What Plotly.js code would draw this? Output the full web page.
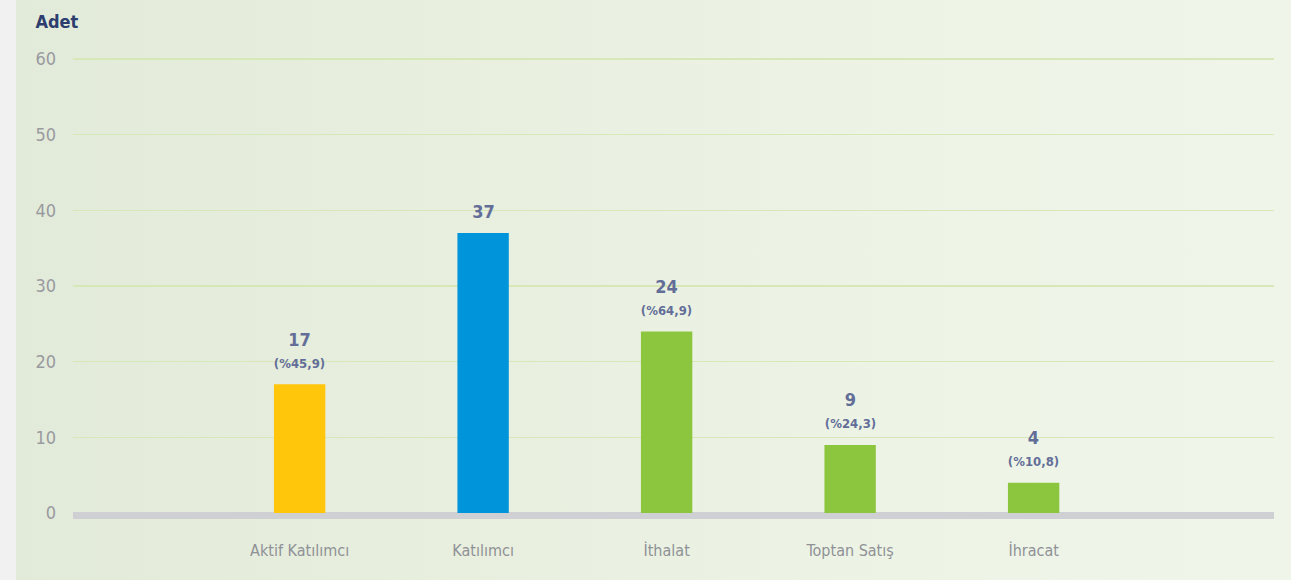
<!DOCTYPE html>
<html>
<head>
<meta charset="utf-8">
<script src="https://cdn.plot.ly/plotly-3.0.1.min.js"></script>
<style>
html,body{margin:0;padding:0;width:1291px;height:580px;overflow:hidden;background:#f1f1f1;}
#wrap{position:absolute;left:16px;top:0;width:1275px;height:580px;background:linear-gradient(90deg,#e2eada 0%,#e8efdf 35%,#edf4e6 70%,#eff5e9 100%);}
#chart{position:absolute;left:0;top:0;width:1291px;height:580px;}
#chart text{font-stretch:condensed !important;}
</style>
</head>
<body>
<div id="wrap"></div>
<div id="chart"></div>
<script>
const categories = ["Aktif Katılımcı", "Katılımcı", "İthalat", "Toptan Satış", "İhracat"];
const values = [17, 37, 24, 9, 4];
const percents = ["(%45,9)", "", "(%64,9)", "(%24,3)", "(%10,8)"];
const barColors = ["#FFC60B", "#0095DA", "#8CC63F", "#8CC63F", "#8CC63F"];
const yTicks = [0, 10, 20, 30, 40, 50, 60];
const yAxisTitle = "Adet";

const FONT = "'DejaVu Sans', sans-serif";
const LABEL = "#636e98";

const annotations = [];
categories.forEach((c, i) => {
  if (percents[i]) {
    annotations.push({x: c, y: values[i], xref: 'x', yref: 'y', text: String(values[i]), showarrow: false,
      yanchor: 'middle', yshift: 45, font: {family: FONT, size: 18, color: LABEL, weight: 'bold'}});
    annotations.push({x: c, y: values[i], xref: 'x', yref: 'y', text: percents[i], showarrow: false,
      yanchor: 'middle', yshift: 21, font: {family: FONT, size: 13, color: LABEL, weight: 'bold'}});
  } else {
    annotations.push({x: c, y: values[i], xref: 'x', yref: 'y', text: String(values[i]), showarrow: false,
      yanchor: 'middle', yshift: 22, font: {family: FONT, size: 18, color: LABEL, weight: 'bold'}});
  }
});
annotations.push({x: 0, y: 1, xref: 'paper', yref: 'paper', xanchor: 'left', yanchor: 'middle',
  xshift: -42, yshift: 35, text: yAxisTitle, showarrow: false,
  font: {family: FONT, size: 18, color: '#2c3d6e', weight: 'bold'}});

const trace = {
  type: 'bar', x: categories, y: values,
  marker: {color: barColors, line: {width: 0}},
  width: 0.28, hoverinfo: 'none'
};

const TOP = 56, BOTTOM = 67;
const PLOT_H = 580 - TOP - BOTTOM;
const layout = {
  width: 1291, height: 580,
  margin: {l: 73, r: 17, t: TOP, b: BOTTOM},
  paper_bgcolor: 'rgba(0,0,0,0)', plot_bgcolor: 'rgba(0,0,0,0)',
  showlegend: false,
  xaxis: {
    type: 'category', range: [-1.235, 5.31], showgrid: false, zeroline: false, showline: false,
    ticks: '', ticklabelstandoff: 26,
    tickfont: {family: FONT, size: 16, color: '#8f9196'}
  },
  yaxis: {
    range: [0, 60.4], tickvals: yTicks, showgrid: true, gridcolor: '#d6e8b8', gridwidth: 1.5,
    zeroline: false, showline: false, ticks: '', ticklabelstandoff: 16,
    tickfont: {family: FONT, size: 18, color: '#999a9e'}
  },
  shapes: [{
    type: 'rect', xref: 'paper', yref: 'paper', x0: 0, x1: 1,
    y0: -6 / PLOT_H, y1: 1 / PLOT_H,
    fillcolor: '#cfd0d4', line: {width: 0}, layer: 'below'
  }],
  annotations: annotations
};

Plotly.newPlot('chart', [trace], layout, {displayModeBar: false, staticPlot: true});
</script>
</body>
</html>
